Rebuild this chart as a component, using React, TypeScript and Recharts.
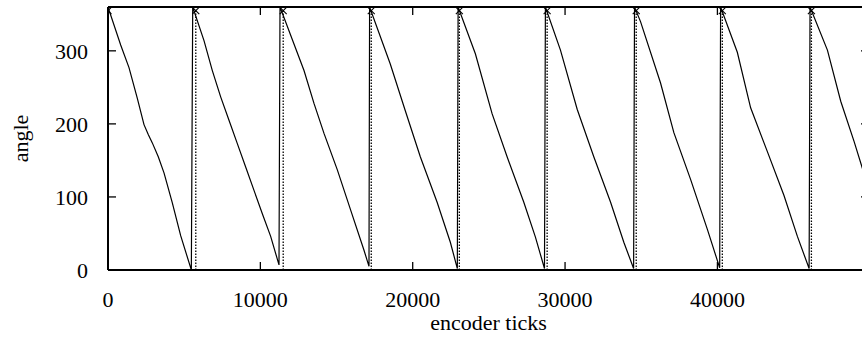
import React from 'react';
import { ComposedChart, Line, Scatter, XAxis, YAxis } from 'recharts';

// Solid curve: measured angle vs encoder ticks
const encoderTicks = [
  0, 832, 1378, 1925, 2363, 2650, 2909, 3300, 3676, 4222, 4770, 5470,
  5560, 6301, 6848, 7395, 7942, 8489, 9036, 9583, 10130, 10677, 11224,
  11290, 12865, 13521, 14178, 15053, 15928, 16803, 17131,
  17170, 18528, 19514, 20499, 21597, 22470, 22930,
  22980, 24113, 25210, 26196, 27287, 28055, 28650,
  28710, 29698, 30795, 31886, 32983, 33857, 34500,
  34560, 34954, 36268, 37142, 38239, 39336, 40150,
  40210, 41307, 42181, 43279, 44370, 45250, 46020,
  46080, 47221, 48095, 48969, 49520, 49950,
];
const angleDeg = [
  360, 308, 277, 235, 199, 185, 174, 155, 133, 92, 47, 0,
  360, 314, 273, 237, 205, 173, 141, 109, 77, 46, 7,
  360, 273, 228, 187, 137, 82, 27, 5,
  360, 282, 218, 155, 93, 38, 2,
  360, 296, 214, 155, 93, 45, 2,
  360, 301, 220, 155, 93, 38, 2,
  360, 340, 256, 188, 124, 56, 3,
  360, 298, 222, 162, 102, 46, 2,
  360, 301, 231, 176, 139, 113,
];

// Index pulses (dotted impulses with x markers)
const indexTicks = [0, 5762, 11500, 17280, 23062, 28824, 34671, 40322, 46170];
const indexAngle = [355, 355, 355, 355, 355, 355, 355, 355, 355];

const xTickValues = [0, 10000, 20000, 30000, 40000];
const yTickValues = [0, 100, 200, 300];
const xDomain = [0, 49950];
const yDomain = [0, 360];

const angleData = encoderTicks.map((x, i) => ({ x, y: angleDeg[i] }));
const impulseData = indexTicks.flatMap((x, i) => [
  { x, y: 0 },
  { x, y: indexAngle[i] },
  { x, y: null },
]);
const markerData = indexTicks.map((x, i) => ({ x, y: indexAngle[i] }));

const FONT = '"Liberation Serif", "Times New Roman", serif';
const FS = 22;
const TICK = 8;

// with tickSize = -TICK the tick coordinate handed to the label is the inner end of the tick
const BottomLabel = (props: any) => {
  const { x, y, payload } = props;
  return (
    <text x={x} y={y + TICK + 37} textAnchor="middle" fontFamily={FONT} fontSize={FS} fill="#000">
      {payload.value}
    </text>
  );
};
const LeftLabel = (props: any) => {
  const { x, y, payload } = props;
  return (
    <text x={x - TICK - 20} y={y} dy="0.35em" textAnchor="end" fontFamily={FONT} fontSize={FS} fill="#000">
      {payload.value}
    </text>
  );
};
const NoLabel = () => <g />;

const XMark = (props: any) => {
  const { cx, cy } = props;
  if (cx == null || cy == null) return null;
  const s = 3.5;
  return (
    <g>
      <line x1={cx - s} y1={cy - s} x2={cx + s} y2={cy + s} stroke="#000" strokeWidth={1.1} />
      <line x1={cx - s} y1={cy + s} x2={cx + s} y2={cy - s} stroke="#000" strokeWidth={1.1} />
    </g>
  );
};

const YLabel = (props: any) => {
  const vb = props.viewBox || {};
  const cx = (vb.x || 0) + 21.5;
  const cy = (vb.y || 0) + (vb.height || 0) / 2;
  return (
    <text
      x={cx}
      y={cy}
      dy="0.3em"
      textAnchor="middle"
      transform={`rotate(-90, ${cx}, ${cy})`}
      fontFamily={FONT}
      fontSize={FS}
      fill="#000"
    >
      angle
    </text>
  );
};

const axisLine = { stroke: '#000', strokeWidth: 2 };
const tickLine = { stroke: '#000', strokeWidth: 1.3 };

export default function App() {
  return (
    <div
      style={{
        position: 'absolute',
        left: 0,
        top: 0,
        width: 862,
        height: 339,
        overflow: 'hidden',
        background: '#fff',
        fontFamily: FONT,
      }}
    >
      <ComposedChart
        width={880}
        height={339}
        margin={{ top: 6, right: 10, bottom: 0, left: 0 }}
      >
        <XAxis
          xAxisId="bottom"
          type="number"
          dataKey="x"
          domain={xDomain}
          ticks={xTickValues}
          allowDataOverflow
          orientation="bottom"
          height={69}
          axisLine={axisLine}
          tickLine={tickLine}
          tickSize={-TICK}
          tickMargin={0}
          tick={<BottomLabel />}
          interval={0}
          label={{
            value: 'encoder ticks',
            position: 'insideBottom',
            offset: 9,
            fontFamily: FONT,
            fontSize: FS,
            fill: '#000',
          }}
        />
        <XAxis
          xAxisId="top"
          type="number"
          dataKey="x"
          domain={xDomain}
          ticks={xTickValues}
          allowDataOverflow
          orientation="top"
          height={1}
          axisLine={axisLine}
          tickLine={tickLine}
          tickSize={-TICK}
          tickMargin={0}
          tick={<NoLabel />}
          interval={0}
        />
        <YAxis
          yAxisId="left"
          type="number"
          dataKey="y"
          domain={yDomain}
          ticks={yTickValues}
          allowDataOverflow
          orientation="left"
          width={108}
          axisLine={axisLine}
          tickLine={tickLine}
          tickSize={-TICK}
          tickMargin={0}
          tick={<LeftLabel />}
          interval={0}
          label={<YLabel />}
        />
        <YAxis
          yAxisId="right"
          type="number"
          dataKey="y"
          domain={yDomain}
          ticks={yTickValues}
          allowDataOverflow
          orientation="right"
          width={1}
          axisLine={axisLine}
          tickLine={tickLine}
          tickSize={-TICK}
          tickMargin={0}
          tick={<NoLabel />}
          interval={0}
        />
        <Line
          xAxisId="bottom"
          yAxisId="left"
          data={impulseData}
          dataKey="y"
          type="linear"
          stroke="#000"
          strokeWidth={1.3}
          strokeDasharray="1.5 1.5"
          dot={false}
          activeDot={false}
          connectNulls={false}
          isAnimationActive={false}
        />
        <Line
          xAxisId="bottom"
          yAxisId="left"
          data={angleData}
          dataKey="y"
          type="linear"
          stroke="#000"
          strokeWidth={1.2}
          dot={false}
          activeDot={false}
          isAnimationActive={false}
        />
        <Scatter
          xAxisId="bottom"
          yAxisId="left"
          data={markerData}
          dataKey="y"
          shape={<XMark />}
          isAnimationActive={false}
        />
      </ComposedChart>
    </div>
  );
}
